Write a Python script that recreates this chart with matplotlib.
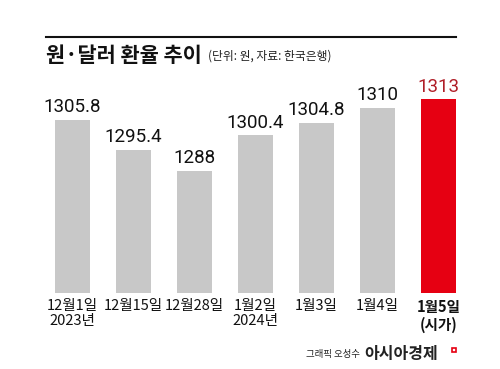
import matplotlib
matplotlib.use("Agg")
import matplotlib.pyplot as plt
from matplotlib.patches import Rectangle

categories = ["12월1일\n2023년", "12월15일", "12월28일", "1월2일\n2024년", "1월3일", "1월4일", "1월5일\n(시가)"]
values = [1305.8, 1295.4, 1288, 1300.4, 1304.8, 1310, 1313]
value_labels = ["1305.8", "1295.4", "1288", "1300.4", "1304.8", "1310", "1313"]

num_font = ["Roboto", "DejaVu Sans"]
kr = ["Noto Sans CJK KR", "DejaVu Sans"]
plt.rcParams['font.family'] = kr

W, H = 500, 369
fig = plt.figure(figsize=(W / 100, H / 100), dpi=100)

# axes geometry in pixels
c0, step = 72.5, 61.0
base_px, top_px = 293, 60
ax = fig.add_axes([0, (H - base_px) / H, 1, (base_px - top_px) / H])
ax.set_xlim(-c0 / step, (W - c0) / step)
ymin = 1245.6
ppu = 2.88
ax.set_ylim(ymin, 1313 + (99 - top_px) / ppu)
ax.axis("off")

colors = ["#c8c8c8"] * 6 + ["#e60012"]
xs = list(range(len(values)))
ax.bar(xs, [v - ymin for v in values], bottom=ymin, width=35 / step, color=colors, clip_on=False)

for i, (x, v, lab) in enumerate(zip(xs, values, value_labels)):
    ax.annotate(lab, (x, v), xytext=(0, 2.5), textcoords="offset points", ha="center", va="bottom",
                fontsize=13.5, family=num_font,
                color="#b01e28" if i == 6 else "#111111")

for i, (x, lab) in enumerate(zip(xs, categories)):
    ax.annotate(lab, (x, ymin), xytext=(0, -4), textcoords="offset points", ha="center", va="top",
                fontsize=10.5, family=kr, color="#111111", linespacing=1.15,
                fontweight="bold" if i == 6 else "normal")

# top rule
fig.add_artist(plt.Line2D([46 / W, 456 / W], [1 - 36.5 / H, 1 - 36.5 / H], color="#111111", lw=1.5))
fig.text(46 / W, 1 - 55 / H, "원·달러 환율 추이", fontsize=15, fontweight="bold", family=kr,
         va="center", ha="left", color="#111111")
fig.text(208 / W, 1 - 56 / H, "(단위: 원, 자료: 한국은행)", fontsize=8.5, family=kr,
         va="center", ha="left", color="#222222")

fig.text(360 / W, 1 - 354 / H, "그래픽 오성수", fontsize=6.8, family=kr, va="center", ha="right", color="#222222")
fig.text(364 / W, 1 - 354 / H, "아시아경제", fontsize=11.5, fontweight="bold", family=kr, va="center",
         ha="left", color="#222222")
fig.add_artist(Rectangle((452 / W, 1 - 352 / H), 4 / W, 4 / H, transform=fig.transFigure,
                         facecolor="none", edgecolor="#e60012", lw=1.2))

fig.savefig("out.png", dpi=100, facecolor="white")
